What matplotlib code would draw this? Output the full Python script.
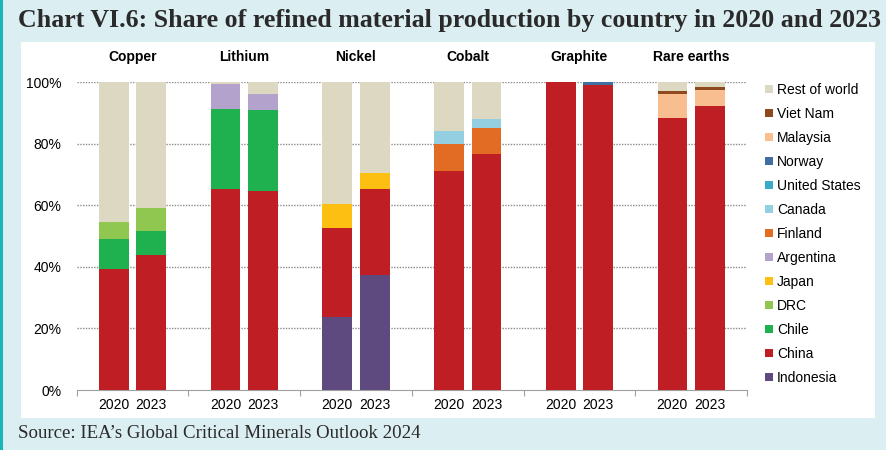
import matplotlib
matplotlib.use("Agg")
import matplotlib.pyplot as plt
from matplotlib.patches import Rectangle, Patch
from matplotlib.lines import Line2D
import numpy as np

minerals = ["Copper", "Lithium", "Nickel", "Cobalt", "Graphite", "Rare earths"]
years = ["2020", "2023"]

# stacking order bottom -> top
countries = ["Indonesia", "China", "Chile", "DRC", "Japan", "Argentina", "Finland",
             "Canada", "United States", "Norway", "Malaysia", "Viet Nam", "Rest of world"]
colors = {
    "Indonesia": "#5e4a7e",
    "China": "#be1e24",
    "Chile": "#1fb04f",
    "DRC": "#8fc750",
    "Japan": "#fcbf12",
    "Argentina": "#b3a2cb",
    "Finland": "#e36c24",
    "Canada": "#93cfe1",
    "United States": "#3aaccb",
    "Norway": "#3f6ea0",
    "Malaysia": "#f9be90",
    "Viet Nam": "#8e4a1e",
    "Rest of world": "#dcd8c2",
}

# shares (%) per mineral, [2020, 2023]
copper = {"China": [39.3, 43.9], "Chile": [9.7, 7.8], "DRC": [5.6, 7.6], "Rest of world": [45.4, 40.7]}
lithium = {"China": [65.2, 64.7], "Chile": [26.1, 26.3], "Argentina": [8.0, 5.2], "Rest of world": [0.7, 3.8]}
nickel = {"Indonesia": [23.6, 37.4], "China": [29.2, 28.0], "Japan": [7.8, 5.2], "Rest of world": [39.4, 29.4]}
cobalt = {"China": [71.2, 76.7], "Finland": [8.9, 8.4], "Canada": [4.1, 3.1], "Rest of world": [15.8, 11.8]}
graphite = {"China": [100.0, 99.2], "Norway": [0.0, 0.8]}
rare_earths = {"China": [88.3, 92.2], "Malaysia": [8.0, 5.3], "Viet Nam": [0.9, 0.9], "Rest of world": [2.8, 1.6]}
data = [copper, lithium, nickel, cobalt, graphite, rare_earths]

W, H = 887, 450
fig = plt.figure(figsize=(W / 100, H / 100), dpi=100)
fig.patch.set_facecolor("#dbeef2")
fig.add_artist(Rectangle((21 / W, 1 - 417.7 / H), (875 - 21) / W, (417.7 - 41.7) / H,
                         transform=fig.transFigure, facecolor="white", edgecolor="none", zorder=-5))
fig.add_artist(Line2D([1.2 / W, 1.2 / W], [0, 1], transform=fig.transFigure, color="#19b5b8", lw=2.2))

fig.text(18 / W, 1 - 20 / H, "Chart VI.6: Share of refined material production by country in 2020 and 2023",
         family="Liberation Serif", weight="bold", fontsize=18.6, color="#2a2a2a", va="center", ha="left")
fig.text(18 / W, 1 - 433.5 / H, "Source: IEA\u2019s Global Critical Minerals Outlook 2024",
         family="Liberation Serif", fontsize=13.6, color="#2a2a2a", va="center", ha="left")

ax = fig.add_axes([76.7 / W, 1 - 390 / H, (747 - 76.7) / W, (390 - 82.3) / H])
ax.set_zorder(2)
ax.set_facecolor("none")
ax.set_xlim(-0.5, len(minerals) - 0.5)
ax.set_ylim(0, 100)

offs = [-0.168, 0.168]
bw = 0.266
for gi, d in enumerate(data):
    for yi in range(2):
        bottom = 0.0
        for c in countries:
            if c in d:
                v = d[c][yi]
                if v > 0:
                    ax.bar(gi + offs[yi], v, bw, bottom=bottom, color=colors[c], zorder=3, linewidth=0)
                bottom += v

for yv in [20, 40, 60, 80, 100]:
    ax.axhline(yv, color="#8a8a8a", lw=1.0, ls=(0, (1, 1)), zorder=1)

ax.set_yticks([0, 20, 40, 60, 80, 100])
ax.set_yticklabels(["0%", "20%", "40%", "60%", "80%", "100%"], family="Liberation Sans", fontsize=10)
ax.tick_params(axis="y", length=0, pad=11)
ax.set_xticks(np.arange(-0.5, len(minerals), 1.0))
ax.set_xticklabels([])
ax.tick_params(axis="x", length=4, color="#a0a0a0", direction="out")
for gi in range(len(minerals)):
    for yi in range(2):
        ax.text(gi + offs[yi], -2.6, years[yi], ha="center", va="top", family="Liberation Sans",
                fontsize=10, transform=ax.transData, clip_on=False)
    ax.text(gi, 1.083, minerals[gi], ha="center", va="center", family="Liberation Sans",
            weight="bold", fontsize=10, transform=ax.get_xaxis_transform())
for s in ["top", "right", "left"]:
    ax.spines[s].set_visible(False)
ax.spines["bottom"].set_color("#a0a0a0")

handles = [Patch(facecolor=colors[c], edgecolor="none", label=c) for c in countries[::-1]]
leg = fig.legend(handles=handles, loc="upper left", bbox_to_anchor=(765 / W, 1 - 83 / H),
                 frameon=False, prop={"family": "Liberation Sans", "size": 10},
                 handlelength=0.55, handleheight=0.55, handletextpad=0.3, labelspacing=0.72,
                 borderaxespad=0, borderpad=0)

fig.savefig("out.png", dpi=100, facecolor=fig.get_facecolor())
